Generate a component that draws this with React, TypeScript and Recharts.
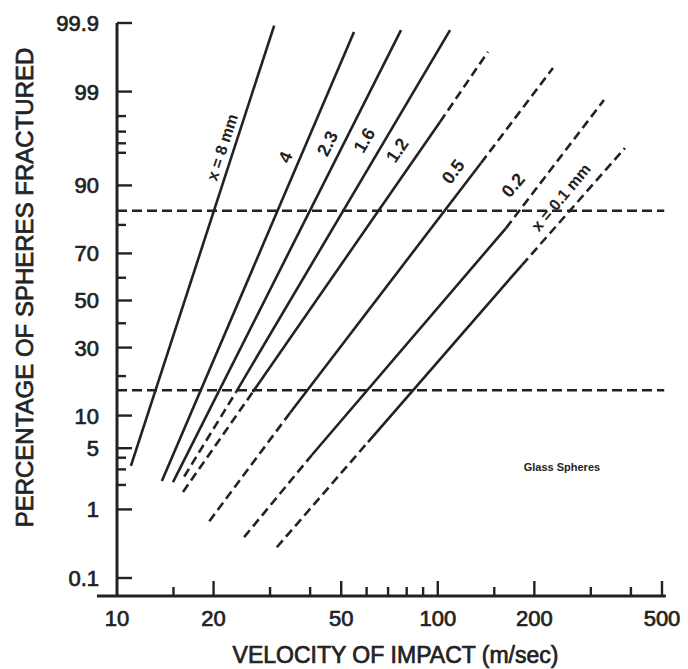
import React from 'react'
import { LineChart, Line, XAxis, YAxis, ReferenceLine, ReferenceDot } from 'recharts'

// ────────────────────────────────────────────────────────────────────────────
// Data. For each sphere size: velocity (m/sec) and
// % fractured at the break points of its line, low end first.
// ────────────────────────────────────────────────────────────────────────────

const vel8 = [11.05, 30.9]
const pct8 = [3.27, 99.89]
const vel4 = [13.8, 54.8]
const pct4 = [2.22, 99.86]
const vel23 = [14.95, 76.8]
const pct23 = [2.16, 99.87]
const vel16 = [16.2, 23.5, 109.2]
const pct16 = [2.5, 15.4, 99.87]
const vel12 = [16.06, 26.5, 101.6, 143.4]
const pct12 = [1.65, 15.4, 97.66, 99.72]
const vel05 = [19.4, 34.6, 136.4, 228.6]
const pct05 = [0.7, 10.51, 93.71, 99.52]
const vel02 = [24.9, 40.5, 163.2, 329.6]
const pct02 = [0.42, 4.27, 79.0, 98.72]
const vel01 = [31.5, 60.6, 183, 383.3]
const pct01 = [0.3, 5.75, 65.36, 95.52]

// which parts of a line are dashed (one flag per segment)
const solidOnly = [false]
const dashLow = [true, false]
const dashBoth = [true, false, true]

const sizeLabels = ['x = 8 mm', '4', '2.3', '1.6', '1.2', '0.5', '0.2', 'x = 0.1 mm']
const labelVel = [21.25, 33.4, 45.2, 58.9, 74.6, 111.5, 171.5, 242]
const labelPct = [95.6, 94.5, 96.0, 96.3, 95.3, 92.5, 90.1, 87.5]
const labelAngle = [-72, -66, -63, -59, -56, -53, -50, -50]

// mean ± 1 sigma
const sigmaPct = [84.13, 15.87]

const velTicks = [10, 15, 20, 30, 40, 50, 60, 70, 80, 90, 100, 150, 200, 300, 400, 500]
const velLabels = ['10', '', '20', '', '', '50', '', '', '', '', '100', '', '200', '', '', '500']
const pctTicks = [0.1, 1, 2, 3, 4, 5, 10, 20, 30, 40, 50, 60, 70, 80, 90, 95, 96, 97, 98, 99, 99.9]
const pctLabels = ['0.1', '1', '', '', '', '5', '10', '', '30', '', '50', '', '70', '', '90', '', '', '', '', '99', '99.9']

const INK = '#222'
const FONT = "'Liberation Sans', Arial, Helvetica, sans-serif"
// scanned lettering is heavy: thicken regular text a little
const heavy = { stroke: INK, strokeWidth: 0.7 }

// ────────────────────────────────────────────────────────────────────────────
// Probability scale — inverse normal CDF (Acklam)
// ────────────────────────────────────────────────────────────────────────────

const A = [-39.69683028665376, 220.9460984245205, -275.9285104469687, 138.357751867269, -30.66479806614716, 2.506628277459239]
const B = [-54.47609879822406, 161.5858368580409, -155.6989798598866, 66.80131188771972, -13.28068155288572]
const C = [-0.007784894002430293, -0.3223964580411365, -2.400758277161838, -2.549732539343734, 4.374664141464968, 2.938163982698783]
const D = [0.007784695709041462, 0.3224671290700398, 2.445134137142996, 3.754408661907416]

function probit(pct: number) {
  const p = pct / 100
  const tail = (q: number) =>
    (((((C[0] * q + C[1]) * q + C[2]) * q + C[3]) * q + C[4]) * q + C[5]) /
    ((((D[0] * q + D[1]) * q + D[2]) * q + D[3]) * q + 1)
  if (p < 0.02425) return tail(Math.sqrt(-2 * Math.log(p)))
  if (p > 1 - 0.02425) return -tail(Math.sqrt(-2 * Math.log(1 - p)))
  const q = p - 0.5
  const r = q * q
  return ((((((A[0] * r + A[1]) * r + A[2]) * r + A[3]) * r + A[4]) * r + A[5]) * q) /
    (((((B[0] * r + B[1]) * r + B[2]) * r + B[3]) * r + B[4]) * r + 1)
}

const Z_TOP = probit(99.9)
const Z_BOTTOM = Z_TOP - 573 / 89.8

function segments(vel: number[], pct: number[], dashed: boolean[]) {
  return dashed.map((d, i) => ({
    dashed: d,
    pts: [
      { v: vel[i], z: probit(pct[i]) },
      { v: vel[i + 1], z: probit(pct[i + 1]) },
    ],
  }))
}

const lines = [
  segments(vel8, pct8, solidOnly),
  segments(vel4, pct4, solidOnly),
  segments(vel23, pct23, solidOnly),
  segments(vel16, pct16, dashLow),
  segments(vel12, pct12, dashBoth),
  segments(vel05, pct05, dashBoth),
  segments(vel02, pct02, dashBoth),
  segments(vel01, pct01, dashBoth),
]

const pctTickZ = pctTicks.map(probit)

// ────────────────────────────────────────────────────────────────────────────
// Ticks — marks point inward, labels outside
// ────────────────────────────────────────────────────────────────────────────

function VelTick(props: any) {
  const { x, y, payload } = props
  const label = velLabels[velTicks.indexOf(payload.value)]
  const len = label ? 15 : 9
  return (
    <g>
      {payload.value > 10 && <line x1={x} x2={x} y1={y} y2={y - len} stroke={INK} strokeWidth={2.4} />}
      {label && (
        <text x={x} y={y + 30} textAnchor="middle" fontSize={22} fill={INK} fontFamily={FONT} {...heavy}>
          {label}
        </text>
      )}
    </g>
  )
}

function PctTick(props: any) {
  const { x, y, payload } = props
  const i = pctTickZ.findIndex(z => Math.abs(z - payload.value) < 1e-6)
  const label = pctLabels[i]
  const len = label ? 15 : 9
  return (
    <g>
      <line x1={x} x2={x + len} y1={y} y2={y} stroke={INK} strokeWidth={2.4} />
      {label && (
        <text x={x - 18} y={y} dy="0.36em" textAnchor="end" fontSize={22} fill={INK} fontFamily={FONT} {...heavy}>
          {label}
        </text>
      )}
    </g>
  )
}

export default function App() {
  return (
    <div style={{ position: 'absolute', left: 0, top: 0, background: '#fff' }}>
      <LineChart width={688} height={669} margin={{ top: 23, right: 26, bottom: 43, left: 57 }}>
        <XAxis
          type="number"
          dataKey="v"
          scale="log"
          domain={[10, 500]}
          allowDataOverflow
          ticks={velTicks}
          interval={0}
          tickSize={0}
          tickMargin={0}
          axisLine={false}
          tickLine={false}
          tick={VelTick}
          height={30}
          label={{
            content: (p: any) => (
              <text
                x={p.viewBox.x + p.viewBox.width / 2 + 6}
                y={p.viewBox.y + 67}
                textAnchor="middle"
                fontSize={23}
                fill={INK}
                fontFamily={FONT}
                {...heavy}
              >
                VELOCITY OF IMPACT (m/sec)
              </text>
            ),
          }}
        />
        <YAxis
          type="number"
          dataKey="z"
          domain={[Z_BOTTOM, Z_TOP]}
          allowDataOverflow
          ticks={pctTickZ}
          interval={0}
          tickSize={0}
          tickMargin={0}
          axisLine={{ stroke: INK, strokeWidth: 3 }}
          tickLine={false}
          tick={PctTick}
          width={60}
          label={{
            content: (p: any) => {
              const cx = p.viewBox.x - 33
              const cy = p.viewBox.y + p.viewBox.height / 2 - 22
              return (
                <text
                  x={cx}
                  y={cy}
                  dy="0.36em"
                  transform={`rotate(-90, ${cx}, ${cy})`}
                  textAnchor="middle"
                  fontSize={24}
                  fill={INK}
                  fontFamily={FONT}
                  {...heavy}
                >
                  PERCENTAGE OF SPHERES FRACTURED
                </text>
              )
            },
          }}
        />

        {/* x axis line runs a little past both ends */}
        <ReferenceLine
          segment={[{ x: 8.66, y: Z_BOTTOM }, { x: 514, y: Z_BOTTOM }]}
          stroke={INK}
          strokeWidth={3}
          ifOverflow="visible"
        />

        {sigmaPct.map(p => (
          <ReferenceLine
            key={p}
            segment={[{ x: 10, y: probit(p) }, { x: 508, y: probit(p) }]}
            stroke={INK}
            strokeWidth={2.6}
            strokeDasharray="10 5"
            ifOverflow="visible"
          />
        ))}

        {lines.flatMap((segs, li) =>
          segs.map((s, si) => (
            <Line
              key={`${li}-${si}`}
              data={s.pts}
              dataKey="z"
              type="linear"
              stroke={INK}
              strokeWidth={2.6}
              strokeDasharray={s.dashed ? '9 5' : undefined}
              dot={false}
              activeDot={false}
              isAnimationActive={false}
            />
          )),
        )}

        {sizeLabels.map((t, i) => (
          <ReferenceDot
            key={t}
            x={labelVel[i]}
            y={probit(labelPct[i])}
            r={1}
            ifOverflow="visible"
            shape={(p: any) => (
              <text
                x={p.cx}
                y={p.cy}
                dy="0.36em"
                transform={`rotate(${labelAngle[i]}, ${p.cx}, ${p.cy})`}
                textAnchor="middle"
                fontSize={i === 0 || i === 7 ? 16 : 18}
                fontWeight="bold"
                fill={INK}
                fontFamily={FONT}
              >
                {t}
              </text>
            )}
          />
        ))}

        <ReferenceDot
          x={243.8}
          y={probit(3.19)}
          r={1}
          ifOverflow="visible"
          shape={(p: any) => (
            <text x={p.cx} y={p.cy} dy="0.36em" textAnchor="middle" fontSize={11} fontWeight="bold" fill={INK} fontFamily={FONT}>
              Glass Spheres
            </text>
          )}
        />
      </LineChart>
    </div>
  )
}
